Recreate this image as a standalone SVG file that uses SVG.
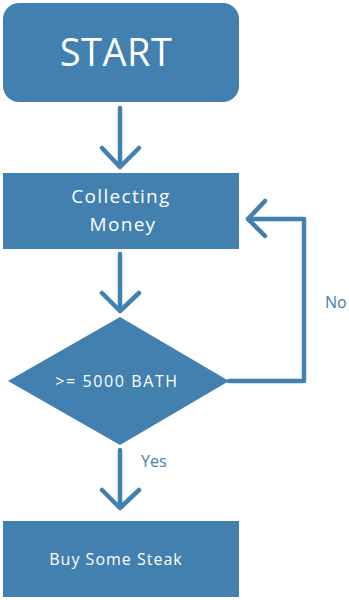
<svg xmlns="http://www.w3.org/2000/svg" width="349" height="600" viewBox="0 0 349 600">
  <style>
    .shape { fill: #4180AF; }
    .label { fill: #FFFFFF; font-family: "Open Sans", "Noto Sans", sans-serif; text-anchor: middle; }
    .edge { fill: none; stroke: #4180AF; stroke-width: 4.5; stroke-linecap: round; stroke-linejoin: round; }
    .edge-label { fill: #4180AF; font-family: "Open Sans", "Noto Sans", sans-serif; font-size: 16px; }
  </style>
  <rect width="349" height="600" fill="#FFFFFF"/>

  <!-- Nodes -->
  <g id="start">
    <rect class="shape" x="3" y="3" width="236" height="99" rx="16" ry="16"/>
    <text class="label" x="116" y="66" font-size="38" letter-spacing="0.5">START</text>
  </g>

  <g id="collecting-money">
    <rect class="shape" x="3" y="173" width="236" height="76"/>
    <text class="label" x="121" y="203" font-size="19" letter-spacing="1.3">Collecting</text>
    <text class="label" x="123" y="231" font-size="19" letter-spacing="1.3">Money</text>
  </g>

  <g id="check-amount">
    <polygon class="shape" points="8,381 120,317 229,381 120,445"/>
    <text class="label" x="117" y="387" font-size="16" letter-spacing="1.6">&gt;= 5000 BATH</text>
  </g>

  <g id="buy-steak">
    <rect class="shape" x="3" y="521" width="236" height="76"/>
    <text class="label" x="116" y="565" font-size="16" letter-spacing="1">Buy Some Steak</text>
  </g>

  <!-- Connectors -->
  <g id="connectors">
    <path class="edge" d="M120,108 V167 M102,148 L120,167 L139,148"/>
    <path class="edge" d="M120,254 V311 M102,293 L120,311 L139,293"/>
    <path class="edge" d="M120,450 V508 M102,490 L120,508 L139,490"/>
    <path class="edge" d="M229,381 H304 V219 H248" stroke-linecap="butt"/>
    <path class="edge" d="M265,201 L248,219 L265,236"/>
    <text class="edge-label" x="141" y="467">Yes</text>
    <text class="edge-label" x="325" y="308">No</text>
  </g>
</svg>
